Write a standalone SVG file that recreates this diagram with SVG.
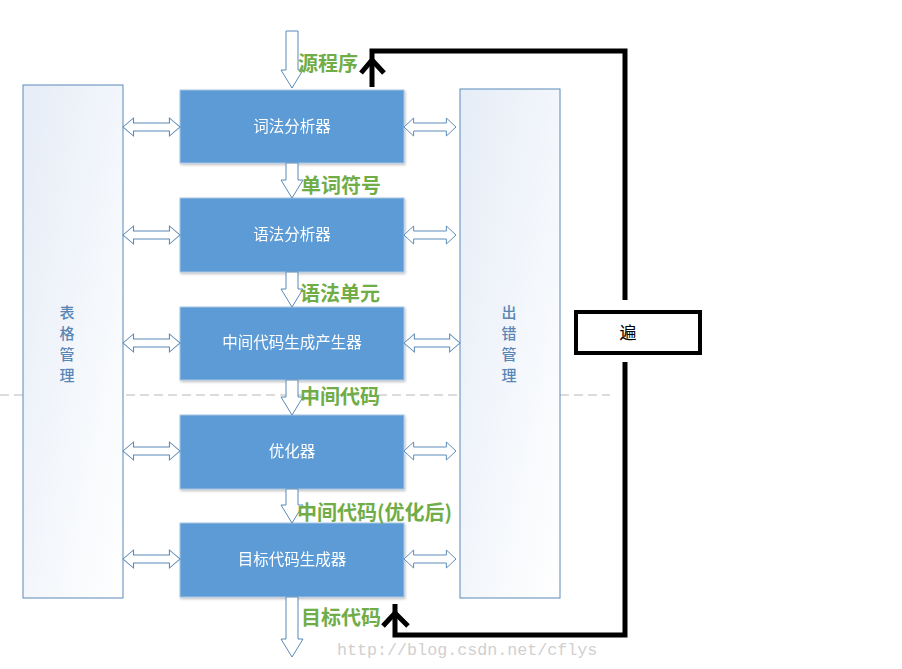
<svg xmlns="http://www.w3.org/2000/svg" width="902" height="669" viewBox="0 0 902 669">
<style>
.side{stroke:#5b8ab8;stroke-width:1}
.proc{fill:#5b9bd5;stroke:#a9c5e3;stroke-width:1}
.ptxt{font-family:"Noto Sans CJK SC",sans-serif;font-size:15.5px;fill:#ffffff;text-anchor:middle}
.lbl{font-family:"Noto Sans CJK SC",sans-serif;font-size:20px;font-weight:bold;fill:#70ad47}
.vtxt{font-family:"Noto Sans CJK SC",sans-serif;font-size:15px;font-weight:500;fill:#5a86b5;text-anchor:middle}
.harr{fill:#ffffff;stroke:#5b8ab8;stroke-width:1}
.loop{fill:none;stroke:#000;stroke-width:5}
</style>
<defs>
<linearGradient id="sg" x1="0" y1="0" x2="1" y2="1">
<stop offset="0" stop-color="#e6edf7"/>
<stop offset="1" stop-color="#ffffff"/>
</linearGradient>
<filter id="sh" x="-5%" y="-5%" width="110%" height="115%">
<feDropShadow dx="1" dy="1.5" stdDeviation="1" flood-color="#000" flood-opacity="0.25"/>
</filter>
<path id="dbl" d="M0,0 L10,-9 L10,-4 L44,-4 L44,-9 L54,0 L44,9 L44,4 L10,4 L10,9 Z"/>
</defs>
<line x1="0" y1="395" x2="610" y2="395" stroke="#b8b8b8" stroke-width="1" stroke-dasharray="9,5"/>
<g id="table">
<rect x="23" y="85" width="100" height="513" fill="url(#sg)" class="side"/>
<text class="vtxt" x="67" y="318">表</text>
<text class="vtxt" x="67" y="339">格</text>
<text class="vtxt" x="67" y="360">管</text>
<text class="vtxt" x="67" y="381">理</text>
</g>
<g id="error">
<rect x="460" y="89" width="100" height="509" fill="url(#sg)" class="side"/>
<text class="vtxt" x="509" y="318">出</text>
<text class="vtxt" x="509" y="339">错</text>
<text class="vtxt" x="509" y="360">管</text>
<text class="vtxt" x="509" y="381">理</text>
</g>
<g id="lex" filter="url(#sh)">
<rect class="proc" x="180" y="90" width="224" height="73"/>
<text class="ptxt" x="292" y="132">词法分析器</text>
</g>
<g id="syn" filter="url(#sh)">
<rect class="proc" x="180" y="198" width="224" height="74"/>
<text class="ptxt" x="292" y="240">语法分析器</text>
</g>
<g id="mid" filter="url(#sh)">
<rect class="proc" x="180" y="307" width="224" height="73"/>
<text class="ptxt" x="292" y="348">中间代码生成产生器</text>
</g>
<g id="opt" filter="url(#sh)">
<rect class="proc" x="180" y="415" width="224" height="74"/>
<text class="ptxt" x="292" y="457">优化器</text>
</g>
<g id="gen" filter="url(#sh)">
<rect class="proc" x="180" y="523" width="224" height="74"/>
<text class="ptxt" x="292" y="565">目标代码生成器</text>
</g>
<g id="pass">
<rect x="576" y="312" width="124" height="41" fill="#fff" stroke="#000" stroke-width="4"/>
<text x="628" y="339" font-family="Noto Sans CJK SC,sans-serif" font-size="17" text-anchor="middle" fill="#000">遍</text>
</g>
<g id="connectors">
<path class="harr" d="M286,31 L298,31 L298,70 L303,70 L292,88 L281,70 L286,70 Z"/>
<path class="harr" d="M286,163 L298,163 L298,180 L303,180 L292,198 L281,180 L286,180 Z"/>
<path class="harr" d="M286,272 L298,272 L298,289 L303,289 L292,307 L281,289 L286,289 Z"/>
<path class="harr" d="M286,380 L298,380 L298,397 L303,397 L292,415 L281,397 L286,397 Z"/>
<path class="harr" d="M286,489 L298,489 L298,505 L303,505 L292,523 L281,505 L286,505 Z"/>
<path class="harr" d="M286,597 L298,597 L298,639 L303,639 L292,657 L281,639 L286,639 Z"/>
<use href="#dbl" class="harr" transform="translate(123,127) scale(1.055,1)"/>
<use href="#dbl" class="harr" transform="translate(123,235) scale(1.055,1)"/>
<use href="#dbl" class="harr" transform="translate(123,343) scale(1.055,1)"/>
<use href="#dbl" class="harr" transform="translate(123,451) scale(1.055,1)"/>
<use href="#dbl" class="harr" transform="translate(123,559) scale(1.055,1)"/>
<use href="#dbl" class="harr" transform="translate(404,127) scale(0.963,1)"/>
<use href="#dbl" class="harr" transform="translate(404,235) scale(0.963,1)"/>
<use href="#dbl" class="harr" transform="translate(404,343) scale(1.037,1)"/>
<use href="#dbl" class="harr" transform="translate(404,451) scale(0.963,1)"/>
<use href="#dbl" class="harr" transform="translate(404,559) scale(0.963,1)"/>
<path class="loop" d="M625,300 L625,51 L372,51 L372,87"/>
<path class="loop" d="M361,73 L372,60 L384,73"/>
<path class="loop" d="M625,362 L625,635 L395,635 L395,604"/>
<path class="loop" d="M383,626 L395,613 L408,626"/>
</g>
<text class="lbl" x="298" y="71">源程序</text>
<text class="lbl" x="301" y="193">单词符号</text>
<text class="lbl" x="300" y="301">语法单元</text>
<text class="lbl" x="300" y="404">中间代码</text>
<text class="lbl" x="297" y="520">中间代码(优化后)</text>
<text class="lbl" x="301" y="625">目标代码</text>
<text x="337" y="655" font-family="Liberation Mono,monospace" font-size="16.7" fill="#d0d0d0">http://blog.csdn.net/cflys</text>
</svg>
